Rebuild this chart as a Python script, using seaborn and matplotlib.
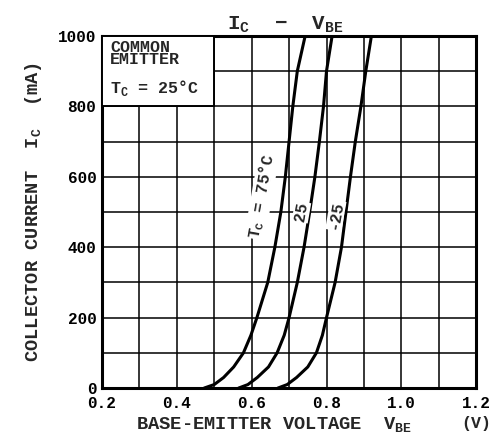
import numpy as np
import pandas as pd
import seaborn as sns
import matplotlib.pyplot as plt
from matplotlib.patches import Rectangle
from matplotlib.ticker import MultipleLocator

# data
ic_ma = [0, 10, 30, 60, 100, 150, 200, 300, 400, 500, 600, 700, 800, 900, 1000]
vbe_75 = [0.473, 0.50, 0.525, 0.552, 0.578, 0.598, 0.614, 0.643, 0.662, 0.678, 0.69, 0.70, 0.71, 0.722, 0.743]
vbe_25 = [0.565, 0.59, 0.615, 0.645, 0.668, 0.687, 0.70, 0.722, 0.74, 0.755, 0.769, 0.781, 0.792, 0.80, 0.815]
vbe_m25 = [0.67, 0.695, 0.72, 0.75, 0.773, 0.789, 0.80, 0.823, 0.84, 0.852, 0.864, 0.877, 0.892, 0.905, 0.92]
temps = ["75", "25", "-25"]

x_ticks = [0.2, 0.4, 0.6, 0.8, 1.0, 1.2]
x_tick_labels = ["0.2", "0.4", "0.6", "0.8", "1.0", "1.2"]
y_ticks = [0, 200, 400, 600, 800, 1000]

df = pd.concat([
    pd.DataFrame({"vbe": v, "ic": ic_ma, "temp": t})
    for v, t in zip([vbe_75, vbe_25, vbe_m25], temps)
])

sns.set_theme(style="white")
plt.rcParams["font.family"] = ["Liberation Mono", "DejaVu Sans Mono"]
plt.rcParams["font.weight"] = "bold"
plt.rcParams["axes.labelweight"] = "bold"
plt.rcParams["axes.titleweight"] = "bold"

fig = plt.figure(figsize=(4.95, 4.43), dpi=100)
ax = fig.add_axes([0.206, 0.124, 0.756, 0.795])

ax.set_xlim(0.2, 1.2)
ax.set_ylim(0, 1000)
ax.xaxis.set_minor_locator(MultipleLocator(0.1))
ax.yaxis.set_minor_locator(MultipleLocator(100))
ax.set_xticks(x_ticks)
ax.set_xticklabels(x_tick_labels)
ax.set_yticks(y_ticks)
ax.grid(which="both", color="black", linewidth=1.1)
ax.set_axisbelow(True)
for s in ax.spines.values():
    s.set_color("black")
    s.set_linewidth(2.2)
ax.tick_params(axis="both", which="both", length=0, labelsize=11.5, colors="black")
ax.tick_params(axis="x", pad=6)
ax.tick_params(axis="y", pad=4)
for lbl in ax.get_xticklabels() + ax.get_yticklabels():
    lbl.set_fontweight("bold")

sns.lineplot(data=df, x="vbe", y="ic", hue="temp", palette=["black"] * 3,
             sort=False, estimator=None, linewidth=2.2, legend=False, ax=ax, zorder=3)

# condition box in the top-left corner
ax.add_patch(Rectangle((0.2, 800), 0.3, 200, facecolor="white", edgecolor="black",
                       linewidth=1.4, zorder=4))
ax.text(0.222, 988, "COMMON\nEMITTER", fontsize=12, va="top", ha="left",
        linespacing=0.75, zorder=5)
ax.text(0.222, 852, r"T$_\mathregular{C}$ = 25°C", fontsize=12, va="center", ha="left", zorder=5)

# curve labels
lab = dict(rotation=80, ha="center", va="center", zorder=5, fontsize=11.5,
           bbox=dict(facecolor="white", edgecolor="none", pad=0.5))
ax.text(0.627, 545, r"T$_\mathregular{C}$ = 75°C", **lab)
ax.text(0.733, 500, "25", **lab)
ax.text(0.825, 490, "-25", **lab)

ax.set_title(r"I$_\mathregular{C}$  −  V$_\mathregular{BE}$", fontsize=15, pad=5, x=0.49)
ax.set_xlabel(r"BASE-EMITTER VOLTAGE  V$_\mathregular{BE}$", fontsize=13.5, labelpad=3, x=0.46)
ax.text(1.0, -0.1, "(V)", transform=ax.transAxes, fontsize=12, ha="center", va="center")
ax.set_ylabel(r"COLLECTOR CURRENT  I$_\mathregular{C}$  (mA)", fontsize=13.5, labelpad=10)

plt.savefig("out.png", dpi=100)
